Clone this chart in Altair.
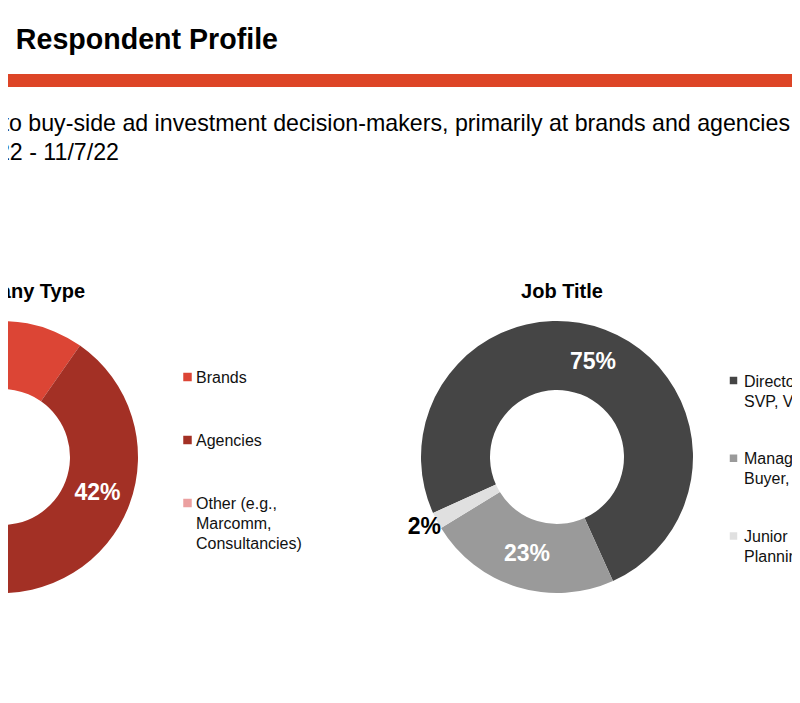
import math
import altair as alt
import pandas as pd

FONT = "Liberation Sans"

# ---- data ----
title_text = "Methodology & Respondent Profile"
subtitle_lines = [
    "Online survey fielded to buy-side ad investment decision-makers, primarily at brands and agencies",
    "Field dates: 10/20/22 - 11/7/22",
]

company_title = "Company Type"
company_cats = ["Brands", "Agencies", "Other"]
company_vals = [54, 42, 4]
company_labels = ["54%", "42%", "4%"]
company_legend = ["Brands", "Agencies", "Other (e.g.,\nMarcomm,\nConsultancies)"]
company_colors = ["#DC4535", "#A33025", "#EBA0A0"]

job_title = "Job Title"
job_cats = ["Director", "Manager", "Junior"]
job_vals = [75, 23, 2]
job_labels = ["75%", "23%", "2%"]
job_legend = [
    "Director or Above (C-Suite, EVP,\nSVP, VP)",
    "Manager (Media Planner,\nBuyer, Strategist)",
    "Junior (e.g., Media\nPlanning Assistant)",
]
job_colors = ["#454545", "#9A9A9A", "#E0E0E0"]

company_df = pd.DataFrame({"cat": company_cats, "value": company_vals,
                           "label": company_labels, "legend": company_legend,
                           "idx": list(range(len(company_cats)))})
job_df = pd.DataFrame({"cat": job_cats, "value": job_vals,
                       "label": job_labels, "legend": job_legend,
                       "idx": list(range(len(job_cats)))})
one = pd.DataFrame({"a": [1]})

W, H = 784, 680


def donut(df, cats, colors, cx, cy, start_deg, r_in, r_out, r_lab, small_cat, r_small):
    start = math.radians(start_deg)
    theta = alt.Theta("value:Q", stack=True,
                      scale=alt.Scale(range=[start, start + 2 * math.pi]))
    order = alt.Order("idx:Q")
    color = alt.Color("cat:N", scale=alt.Scale(domain=cats, range=colors), legend=None)
    arc = alt.Chart(df).mark_arc(innerRadius=r_in, outerRadius=r_out).encode(
        theta=theta, order=order, color=color,
        x=alt.value(cx), y=alt.value(cy))
    lab_in = alt.Chart(df).mark_text(
        radius=r_lab, font=FONT, fontSize=23, fontWeight="bold", color="white",
        align="center", baseline="middle").encode(
        theta=theta, order=order, x=alt.value(cx), y=alt.value(cy),
        text=alt.condition(alt.datum.cat != small_cat, "label:N", alt.value("")))
    lab_out = alt.Chart(df).mark_text(
        radius=r_small, font=FONT, fontSize=23, fontWeight="bold", color="black",
        align="center", baseline="middle").encode(
        theta=theta, order=order, x=alt.value(cx), y=alt.value(cy),
        text=alt.condition(alt.datum.cat == small_cat, "label:N", alt.value("")))
    return [arc, lab_in, lab_out]


def legend(df, cats, colors, sx, tx, y0, y1, size):
    ysc = alt.Y("cat:N", scale=alt.Scale(type="point", domain=cats, range=[y0, y1], padding=0),
                axis=None)
    sq = alt.Chart(df).mark_square(size=size, opacity=1).encode(
        x=alt.value(sx), y=ysc,
        color=alt.Color("cat:N", scale=alt.Scale(domain=cats, range=colors), legend=None))
    txt = alt.Chart(df).mark_text(
        font=FONT, fontSize=16, color="#111111", align="left", baseline="alphabetic",
        dy=6, lineBreak="\n", lineHeight=20).encode(
        x=alt.value(tx), y=ysc, text="legend:N")
    return [sq, txt]


title = alt.Chart(one).mark_text(
    text=title_text, font=FONT, fontSize=28.6, fontWeight="bold", color="black",
    align="right", baseline="alphabetic").encode(x=alt.value(270), y=alt.value(41))

bar = alt.Chart(one).mark_rect(color="#DD4527").encode(
    x=alt.value(0), x2=alt.value(W), y=alt.value(66), y2=alt.value(79))

sub1 = alt.Chart(one).mark_text(
    text=subtitle_lines[0], font=FONT, fontSize=23.2, color="black",
    align="right", baseline="alphabetic").encode(x=alt.value(782), y=alt.value(123))
sub2 = alt.Chart(one).mark_text(
    text=subtitle_lines[1], font=FONT, fontSize=23.2, color="black",
    align="right", baseline="alphabetic").encode(x=alt.value(111), y=alt.value(152))

t_company = alt.Chart(one).mark_text(
    text=company_title, font=FONT, fontSize=20, fontWeight="bold", color="black",
    align="right", baseline="alphabetic").encode(x=alt.value(77), y=alt.value(290))
t_job = alt.Chart(one).mark_text(
    text=job_title, font=FONT, fontSize=20, fontWeight="bold", color="black",
    align="center", baseline="alphabetic").encode(x=alt.value(554), y=alt.value(290))

layers = [bar, title, sub1, sub2, t_company, t_job]
layers += donut(company_df, company_cats, company_colors, -6, 449, 200.6, 68, 136, 102, "Other", 150)
layers += donut(job_df, job_cats, job_colors, 549, 449, 245.7, 67, 136, 102, "Junior", 150)
layers += legend(company_df, company_cats, company_colors, 179.5, 188, 369, 495, 72)
layers += legend(job_df, job_cats, job_colors, 725.5, 736, 372.5, 528, 56)

chart = alt.layer(*layers).resolve_scale(
    theta="independent", color="independent", y="independent"
).properties(
    width=W, height=H, padding=0, autosize=alt.AutoSizeParams(type="none"),
    background="white"
).configure_view(stroke=None)

chart.save("out.html", embed_options={"renderer": "svg", "actions": False})
